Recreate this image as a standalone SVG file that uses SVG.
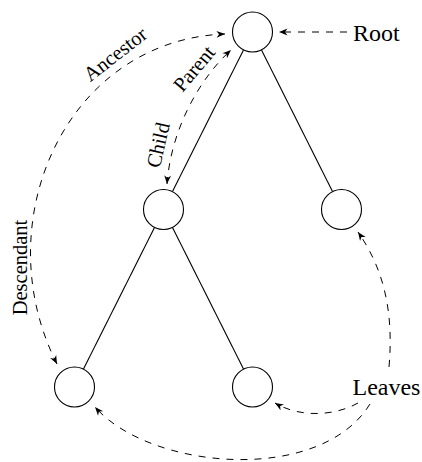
<svg xmlns="http://www.w3.org/2000/svg" width="422" height="462" viewBox="0 0 422 462">
  <style>
    .node { fill: #fff; stroke: #000; stroke-width: 1.1; }
    .edge { stroke: #000; stroke-width: 1.1; fill: none; }
    .rel { stroke: #000; stroke-width: 1; fill: none; stroke-dasharray: 7 7; }
    .one { marker-end: url(#head); }
    .both { marker-start: url(#head); marker-end: url(#head); }
    .lbl { font-family: "Liberation Serif", "Times New Roman", serif; font-size: 24px; fill: #000; }
    .sml { font-family: "Liberation Serif", "Times New Roman", serif; font-size: 20.5px; fill: #000; text-anchor: middle; }
  </style>
  <defs>
    <marker id="head" markerUnits="userSpaceOnUse" viewBox="-9 -4 10 8" refX="0" refY="0" markerWidth="10" markerHeight="8" orient="auto-start-reverse">
      <path d="M0,0 L-8.5,-3.4 L-6,0 L-8.5,3.4 Z" fill="#000"/>
    </marker>
  </defs>

  <!-- tree edges -->
  <g id="edges">
    <line class="edge" x1="243.5" y1="49.9" x2="172.5" y2="191.6"/>
    <line class="edge" x1="261.5" y1="49.9" x2="332.5" y2="191.6"/>
    <line class="edge" x1="154.5" y1="227.4" x2="83.5" y2="369.1"/>
    <line class="edge" x1="172.5" y1="227.4" x2="243.5" y2="369.1"/>
  </g>

  <!-- dashed relation arrows -->
  <g id="relations">
    <path class="rel one" d="M347,32 L279,32"/>
    <path class="rel both" d="M57,364 C-15,222 66,40 225,34"/>
    <path class="rel both" d="M167,184 C171,130 199,79 231,50"/>
    <path class="rel one" d="M389,367 C394,310 383,268 358,232"/>
    <path class="rel one" d="M358,403 C335,416 300,418 275,403"/>
    <path class="rel one" d="M370,404 C320,485 150,470 95,407"/>
  </g>

  <!-- nodes -->
  <g id="root"><circle class="node" cx="252.5" cy="32" r="20"/></g>
  <g id="child-left"><circle class="node" cx="163.5" cy="209.5" r="20"/></g>
  <g id="child-right"><circle class="node" cx="341.5" cy="209.5" r="20"/></g>
  <g id="leaf-left"><circle class="node" cx="74.5" cy="387" r="20"/></g>
  <g id="leaf-mid"><circle class="node" cx="252.5" cy="387" r="20"/></g>

  <!-- labels -->
  <g id="labels">
    <text class="lbl" x="353" y="41">Root</text>
    <text class="lbl" x="352.5" y="395">Leaves</text>
    <text class="sml" transform="translate(119.5,59.5) rotate(-38)" x="0" y="0">Ancestor</text>
    <text class="sml" transform="translate(194,68.5) rotate(-50)" x="0" y="7">Parent</text>
    <text class="sml" transform="translate(158,145) rotate(-77)" x="0" y="7">Child</text>
    <text class="sml" transform="translate(19.5,267.5) rotate(-90)" x="0" y="7">Descendant</text>
  </g>
</svg>
